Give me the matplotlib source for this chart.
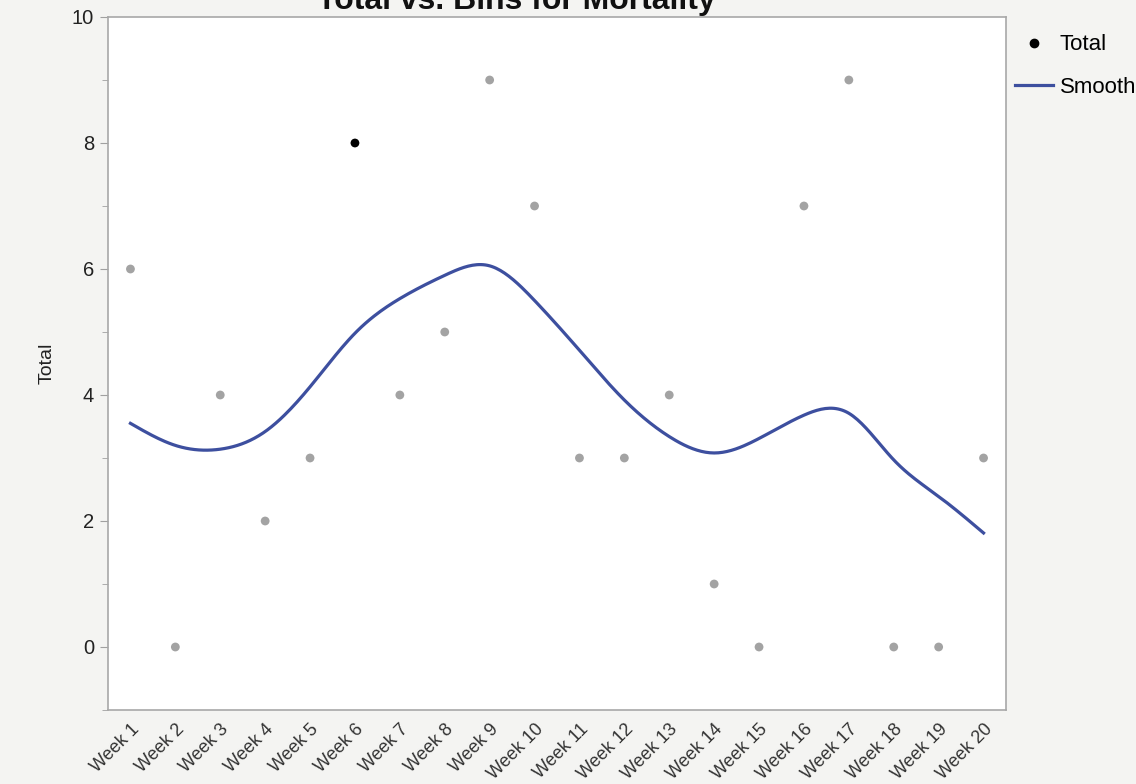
import numpy as np
import matplotlib
matplotlib.use("Agg")
import matplotlib.pyplot as plt
from matplotlib.ticker import MultipleLocator
from matplotlib.lines import Line2D

plt.rcParams['font.family'] = ['Liberation Sans', 'DejaVu Sans']

# --- data ---
weeks = [f"Week {i}" for i in range(1, 21)]
totals = [6, 0, 4, 2, 3, 8, 4, 5, 9, 7, 3, 3, 4, 1, 0, 7, 9, 0, 0, 3]
smooth = [3.55, 3.20, 3.14, 3.42, 4.13, 4.98, 5.53, 5.90, 6.05, 5.50,
          4.71, 3.92, 3.34, 3.08, 3.31, 3.68, 3.71, 2.97, 2.39, 1.81]
selected = "Week 6"


def natural_spline(x, y, n=400):
    # natural cubic spline, only used to draw the smooth curve through the read values
    x = np.asarray(x, float)
    y = np.asarray(y, float)
    k = len(x)
    h = np.diff(x)
    A = np.zeros((k, k))
    b = np.zeros(k)
    A[0, 0] = A[-1, -1] = 1
    for i in range(1, k - 1):
        A[i, i - 1] = h[i - 1]
        A[i, i] = 2 * (h[i - 1] + h[i])
        A[i, i + 1] = h[i]
        b[i] = 3 * ((y[i + 1] - y[i]) / h[i] - (y[i] - y[i - 1]) / h[i - 1])
    c = np.linalg.solve(A, b)
    xs = np.linspace(x[0], x[-1], n)
    idx = np.clip(np.searchsorted(x, xs) - 1, 0, k - 2)
    dx = xs - x[idx]
    bb = (y[idx + 1] - y[idx]) / h[idx] - h[idx] * (2 * c[idx] + c[idx + 1]) / 3
    d = (c[idx + 1] - c[idx]) / (3 * h[idx])
    return xs, y[idx] + bb * dx + c[idx] * dx ** 2 + d * dx ** 3


bg = '#f4f4f2'
fig = plt.figure(figsize=(11.36, 7.84), dpi=100, facecolor=bg)
ax = fig.add_axes([108 / 1136, 74 / 784, 898 / 1136, 693 / 784])
ax.set_facecolor('white')

xpos = np.arange(len(weeks))
colors = ['black' if w == selected else '#a3a3a3' for w in weeks]
ax.scatter(xpos, totals, s=40, c=colors, zorder=3, linewidths=0)

xs, ys = natural_spline(xpos, smooth)
ax.plot(xs, ys, color='#3d4f9f', lw=2.3, zorder=2)

ax.set_xlim(-0.5, len(weeks) - 0.5)
ax.set_ylim(-1, 10)
ax.yaxis.set_major_locator(MultipleLocator(2))
ax.yaxis.set_minor_locator(MultipleLocator(1))
ax.set_xticks(xpos)
ax.set_xticklabels(weeks, rotation=45, ha='right', rotation_mode='anchor',
                   fontsize=13, color='#333333')
ax.tick_params(axis='x', length=0, pad=8)
ax.tick_params(axis='y', which='major', length=6, color='#a0a0a0',
               labelsize=14.5, labelcolor='#222222', pad=4)
ax.tick_params(axis='y', which='minor', length=4, color='#a0a0a0')
for s in ax.spines.values():
    s.set_color('#a8a8a8')
    s.set_linewidth(1.2)

ax.set_ylabel('Total', fontsize=14, color='#222222', labelpad=12)

# title sits partly above the visible area, as in the source image
fig.text(516 / 1136, 1 - 9 / 784, 'Total vs. Bins for Mortality', ha='center',
         va='baseline', fontsize=23, fontweight='bold', color='#111111')

handles = [Line2D([], [], marker='o', color='black', ls='none', markersize=6),
           Line2D([], [], color='#3d4f9f', lw=2.3)]
fig.legend(handles, ['Total', 'Smooth'], loc='upper left',
           bbox_to_anchor=(1011 / 1136, 1 - 30 / 784), frameon=False,
           fontsize=16, handlelength=1.7, handletextpad=0.3, labelspacing=0.95,
           borderaxespad=0, borderpad=0.2)

fig.savefig('out.png', dpi=100, facecolor=bg)
